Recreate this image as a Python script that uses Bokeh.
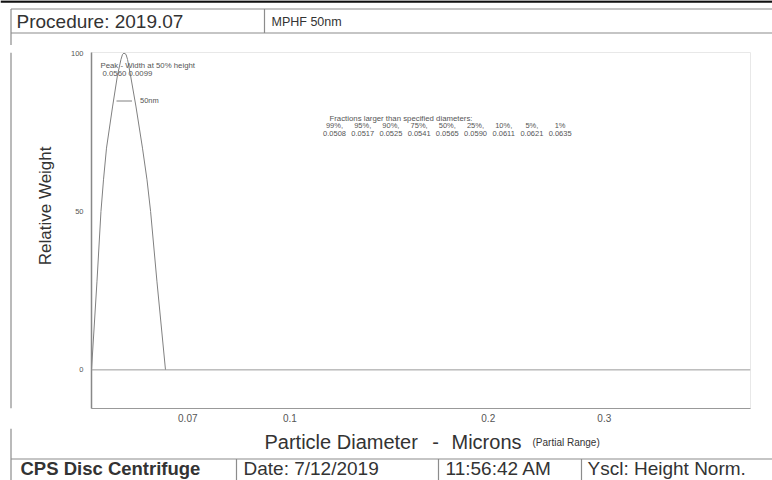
import math
from bokeh.plotting import figure
from bokeh.models import Range1d, FixedTicker, Label, Span, Legend, LegendItem
from bokeh.layouts import column, row
from bokeh.embed import file_html
from bokeh.resources import INLINE

# ---------------- data ----------------
diameter_um = [0.0500, 0.05097, 0.05168, 0.05214, 0.05269, 0.05381, 0.05475, 0.05542, 0.05572,
               0.05601, 0.05641, 0.05671, 0.05730, 0.05842, 0.05975, 0.06070, 0.06147, 0.06284, 0.06475]
relative_weight = [0, 28, 50, 60, 70, 83, 93, 98, 99.6, 100, 99.6, 98, 93, 83, 70, 60, 50, 28, 0]

peak_diameter = 0.0560
peak_width_50 = 0.0099

fraction_pct = [99, 95, 90, 75, 50, 25, 10, 5, 1]
fraction_diam = [0.0508, 0.0517, 0.0525, 0.0541, 0.0565, 0.0590, 0.0611, 0.0621, 0.0635]

x_ticks = [0.07, 0.1, 0.2, 0.3]
x_tick_labels = ["0.07", "0.1", "0.2", "0.3"]
y_ticks = [0, 50, 100]
y_tick_labels = ["0", "50", "100"]

series_name = "50nm"
header_left = "Procedure: 2019.07"
header_right = "MPHF 50nm"
x_title_parts = ["Particle Diameter", "-", "Microns"]
x_title_note = "(Partial Range)"
y_title = "Relative Weight"
footer_cells = ["CPS Disc Centrifuge", "Date: 7/12/2019", "11:56:42 AM", "Yscl: Height Norm."]

FONT = "Liberation Sans"
LINE = "#8c8c8c"
TXT = "#333333"
TXT2 = "#555555"

W = 772


def blank(w, h):
    f = figure(width=w, height=h, x_range=Range1d(0, w), y_range=Range1d(h, 0),
               x_axis_type=None, y_axis_type=None, output_backend="svg",
               toolbar_location=None, min_border=0, outline_line_color=None)
    f.grid.visible = False
    f.background_fill_color = "white"
    f.border_fill_color = "white"
    return f


def dlabel(f, x, y, text, size, color=TXT, bold=False, align="left", angle=0):
    f.add_layout(Label(x=x, y=y, text=text, text_font=FONT, text_font_size=f"{size}px",
                       text_color=color, text_align=align, text_baseline="middle",
                       angle=angle, text_font_style="bold" if bold else "normal"))


# ---------------- header (page y 0-45) ----------------
HH = 45
hdr = blank(W, HH)
hdr.segment(x0=[0], y0=[1], x1=[W], y1=[1], line_color="#111111", line_width=2.5)
hdr.segment(x0=[10.5, 10.5, 10.5, 264], y0=[8.5, 32.5, 8.5, 8.5],
            x1=[W, W, 10.5, 264], y1=[8.5, 32.5, HH, 32.5],
            line_color=LINE, line_width=1.2)
dlabel(hdr, 16, 21, header_left, 19)
dlabel(hdr, 271, 21, header_right, 12.5)

# ---------------- middle row (page y 45-428) ----------------
MH = 383
LW = 60
left = blank(LW, MH)
left.segment(x0=[10.5], y0=[0], x1=[10.5], y1=[MH], line_color=LINE, line_width=1.2)
dlabel(left, 45, 165, y_title, 17, TXT, align="center", angle=math.pi / 2)

p = figure(width=W - LW, height=MH, x_axis_type="log", x_range=Range1d(0.05, 0.5),
           y_range=Range1d(-12.2, 100.2), output_backend="svg", toolbar_location=None,
           min_border_left=31, min_border_right=22, min_border_top=7, min_border_bottom=20)
p.background_fill_color = "white"
p.border_fill_color = "white"
p.outline_line_color = "#e8e8e8"
p.grid.visible = False

p.xaxis.ticker = FixedTicker(ticks=x_ticks, minor_ticks=[])
p.xaxis.major_label_overrides = dict(zip(x_ticks, x_tick_labels))
p.xaxis.major_tick_in = 0
p.xaxis.major_tick_out = 0
p.xaxis.minor_tick_line_color = None
p.xaxis.major_label_standoff = 5
p.xaxis.major_label_text_font = FONT
p.xaxis.major_label_text_font_size = "10px"
p.xaxis.major_label_text_color = TXT2
p.xaxis.axis_line_color = "#999999"
p.xaxis.axis_line_width = 1.2

p.yaxis.ticker = FixedTicker(ticks=y_ticks, minor_ticks=[])
p.yaxis.major_label_overrides = dict(zip(y_ticks, y_tick_labels))
p.yaxis.major_tick_in = 0
p.yaxis.major_tick_out = 0
p.yaxis.minor_tick_line_color = None
p.yaxis.major_label_standoff = 8
p.yaxis.major_label_text_font = FONT
p.yaxis.major_label_text_font_size = "7.5px"
p.yaxis.major_label_text_color = TXT2
p.yaxis.axis_line_color = "#888888"
p.yaxis.axis_line_width = 1.5

p.add_layout(Span(location=0, dimension="width", line_color="#999999", line_width=1))

r = p.line(diameter_um, relative_weight, line_color="#808080", line_width=1)

legend = Legend(items=[LegendItem(label=series_name, renderers=[r])], location=(25, 303),
                padding=0, margin=0, spacing=0, glyph_width=16, glyph_height=9,
                label_height=9, label_standoff=8, label_text_font=FONT,
                label_text_font_size="7.5px", label_text_color=TXT2,
                border_line_color=None, background_fill_alpha=0)
p.add_layout(legend)


def slabel(x, y, text, size, color=TXT2, align="left"):
    p.add_layout(Label(x=x, y=y, x_units="screen", y_units="screen", text=text,
                       text_font=FONT, text_font_size=f"{size}px", text_color=color,
                       text_align=align, text_baseline="middle"))


slabel(9, 343, "Peak  -  Width at 50% height", 7.8)
slabel(11, 335, f"{peak_diameter:.4f}  {peak_width_50:.4f}", 7.8)

slabel(238, 290, "Fractions larger than specified diameters:", 7.8)
n = len(fraction_pct)
for i, (pc, dv) in enumerate(zip(fraction_pct, fraction_diam)):
    txt = f"{pc}%" + ("," if i < n - 1 else "")
    slabel(243 + i * 28.2, 283.5, txt, 7.5, TXT2, "center")
    slabel(243 + i * 28.2, 275.5, f"{dv:.4f}", 7.5, TXT2, "center")

# ---------------- footer (page y 428-480) ----------------
FH = 52
ftr = blank(W, FH)
ftr.segment(x0=[10.5, 10.5, 236, 438, 581], y0=[0, 30.5, 30.5, 30.5, 30.5],
            x1=[10.5, W, 236, 438, 581], y1=[FH, 30.5, FH, FH, FH],
            line_color=LINE, line_width=1.2)
dlabel(ftr, 264, 13, x_title_parts[0], 20)
dlabel(ftr, 435, 13, x_title_parts[1], 20, align="center")
dlabel(ftr, 451, 13, x_title_parts[2], 20)
dlabel(ftr, 532, 14, x_title_note, 10)
dlabel(ftr, 20, 39.5, footer_cells[0], 18.5, TXT, bold=True)
dlabel(ftr, 243, 39.5, footer_cells[1], 19)
dlabel(ftr, 445, 39.5, footer_cells[2], 19)
dlabel(ftr, 587, 39.5, footer_cells[3], 19)

layout = column(hdr, row(left, p, spacing=0), ftr, spacing=0)
open("out.html", "w").write(file_html(layout, INLINE))
